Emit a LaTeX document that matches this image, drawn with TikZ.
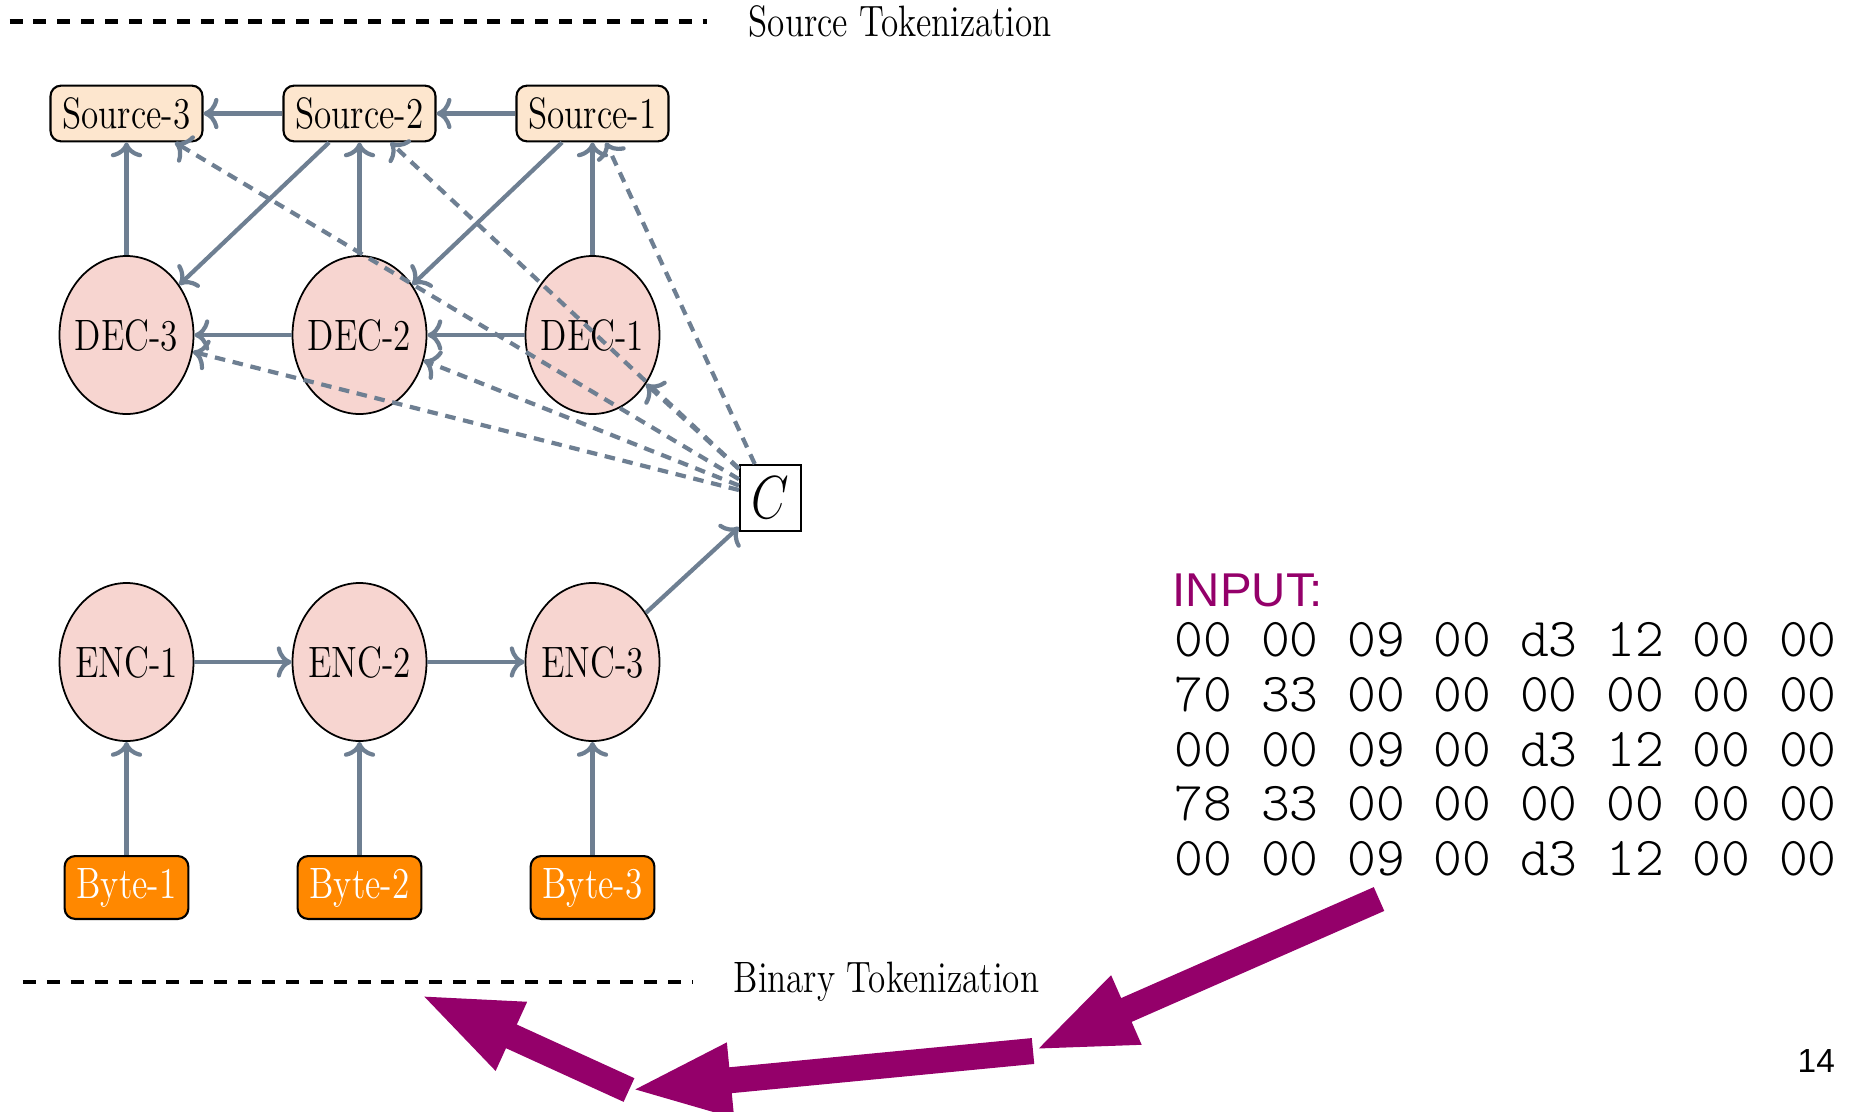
\documentclass[tikz,border=0pt]{standalone}
\usepackage{fontspec}
\usetikzlibrary{arrows.meta,shapes.geometric}
\newfontfamily\slidesans{Liberation Sans}
\newfontfamily\hexfont{Latin Modern Mono Light}
\definecolor{slate}{HTML}{6E7F92}
\definecolor{peach}{HTML}{FDE6CE}
\definecolor{blush}{HTML}{F7D5D0}
\definecolor{amber}{HTML}{FF8800}
\definecolor{plum}{HTML}{94006A}
\newcommand{\slim}[1]{\scalebox{0.8}[1]{#1}}

\begin{document}
\begin{tikzpicture}[
  lbl/.style={font=\fontsize{12.5}{15}\selectfont},
  srcbox/.style={lbl,draw,line width=0.6pt,rounded corners=3pt,fill=peach,inner sep=3.4pt},
  bytebox/.style={lbl,draw,line width=0.6pt,rounded corners=3pt,fill=amber,text=white,inner sep=3.4pt},
  rnn/.style={lbl,ellipse,draw,line width=0.5pt,fill=blush,minimum width=1.34cm,minimum height=1.58cm,inner xsep=-1.6pt,inner ysep=0pt},
  flow/.style={->,slate,line width=1.2pt},
  attn/.style={flow,dash pattern=on 3pt off 2.2pt},
  sepline/.style={line width=1.4pt,dash pattern=on 3.7pt off 3.1pt},
  hexrow/.style={font=\hexfont\fontsize{15.6}{17}\selectfont,anchor=base west,inner sep=0pt},
  bigarrow/.style={plum,line width=2.6mm,-{Triangle[length=10.2mm,width=6.7mm]}}]
  \useasboundingbox (0,0) rectangle (18.54,-11.11);

  \coordinate (topL) at (0.095,-0.217);
  \coordinate (topR) at (7.07,-0.217);
  \draw[sepline] (topL) -- (topR);
  \node[lbl,anchor=base west,inner sep=0pt] (srctok) at (7.48,-0.36) {\slim{Source Tokenization}};

  \node[srcbox] (src3) at (1.265,-1.135) {\slim{Source-3}};
  \node[srcbox] (src2) at (3.595,-1.135) {\slim{Source-2}};
  \node[srcbox] (src1) at (5.925,-1.135) {\slim{Source-1}};
  \node[rnn] (dec3) at (1.265,-3.35) {\slim{DEC-3}};
  \node[rnn] (dec2) at (3.595,-3.35) {\slim{DEC-2}};
  \node[rnn] (dec1) at (5.925,-3.35) {\slim{DEC-1}};
  \node[draw,line width=0.6pt,fill=white,minimum width=0.61cm,minimum height=0.66cm,inner sep=0pt] (ctx) at (7.705,-4.98) {\fontsize{17.28}{20}\selectfont\slim{$C$}};
  \node[rnn] (enc1) at (1.265,-6.62) {\slim{ENC-1}};
  \node[rnn] (enc2) at (3.595,-6.62) {\slim{ENC-2}};
  \node[rnn] (enc3) at (5.925,-6.62) {\slim{ENC-3}};
  \node[bytebox] (byte1) at (1.265,-8.875) {\slim{Byte-1}};
  \node[bytebox] (byte2) at (3.595,-8.875) {\slim{Byte-2}};
  \node[bytebox] (byte3) at (5.925,-8.875) {\slim{Byte-3}};

  \draw[flow] (src1) -- (src2);
  \draw[flow] (src2) -- (src3);
  \draw[flow] (dec1) -- (dec2);
  \draw[flow] (dec2) -- (dec3);
  \draw[flow] (dec3) -- (src3);
  \draw[flow] (dec2) -- (src2);
  \draw[flow] (dec1) -- (src1);
  \draw[flow] (src2) -- (dec3);
  \draw[flow] (src1) -- (dec2);
  \draw[flow] (enc1) -- (enc2);
  \draw[flow] (enc2) -- (enc3);
  \draw[flow] (byte1) -- (enc1);
  \draw[flow] (byte2) -- (enc2);
  \draw[flow] (byte3) -- (enc3);
  \draw[flow] (enc3) -- (ctx);
  \draw[attn] (ctx) -- (src3);
  \draw[attn] (ctx) -- (src2);
  \draw[attn] (ctx) -- (src1);
  \draw[attn] (ctx) -- (dec3);
  \draw[attn] (ctx) -- (dec2);
  \draw[attn] (ctx) -- (dec1);

  \coordinate (botL) at (0.23,-9.82);
  \coordinate (botR) at (6.93,-9.82);
  \draw[sepline] (botL) -- (botR);
  \node[lbl,anchor=base west,inner sep=0pt] (bintok) at (7.33,-9.92) {\slim{Binary Tokenization}};

  \node[font=\slidesans\fontsize{13.5}{15}\selectfont,text=plum,anchor=base west,inner sep=0pt] (inlbl) at (11.72,-6.06) {INPUT:};
  \node[hexrow] (row1) at (11.74,-6.567) {00 00 09 00 d3 12 00 00};
  \node[hexrow] (row2) at (11.74,-7.114) {70 33 00 00 00 00 00 00};
  \node[hexrow] (row3) at (11.74,-7.661) {00 00 09 00 d3 12 00 00};
  \node[hexrow] (row4) at (11.74,-8.208) {78 33 00 00 00 00 00 00};
  \node[hexrow] (row5) at (11.74,-8.755) {00 00 09 00 d3 12 00 00};

  \coordinate (w1) at (13.79,-8.99);
  \coordinate (w2) at (10.33,-10.51);
  \coordinate (w3) at (6.29,-10.90);
  \coordinate (w4) at (4.186,-9.94);
  \draw[bigarrow] (w1) -- (w2);
  \draw[bigarrow] (w2) -- (w3);
  \draw[bigarrow] (w3) -- (w4);

  \node[font=\slidesans\fontsize{9.5}{11}\selectfont,anchor=base west,inner sep=0pt] (pagenum) at (17.97,-10.72) {14};
\end{tikzpicture}
\end{document}
